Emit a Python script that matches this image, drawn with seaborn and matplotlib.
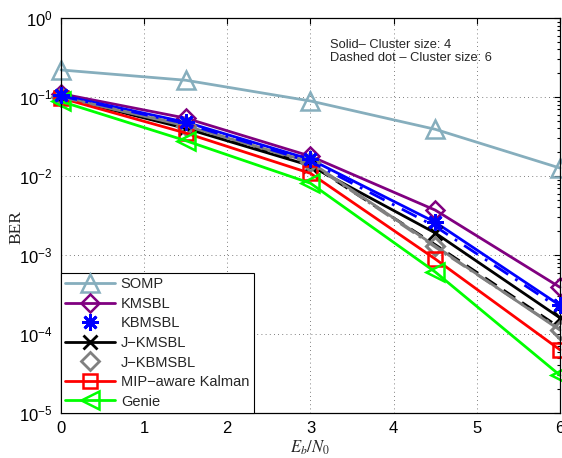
import numpy as np
import pandas as pd
import seaborn as sns
import matplotlib
matplotlib.use("Agg")
import matplotlib.pyplot as plt
from matplotlib.lines import Line2D
from matplotlib.ticker import FixedLocator, FuncFormatter, LogLocator, NullFormatter

# ---------------- data ----------------
ebn0 = [0, 1.5, 3, 4.5, 6]

somp = [0.22, 0.163, 0.089, 0.039, 0.0126]
kmsbl = [0.11, 0.054, 0.0178, 3.7e-3, 3.9e-4]
kbmsbl_4 = [0.105, 0.048, 0.0162, 2.6e-3, 2.3e-4]
kbmsbl_6 = [0.103, 0.046, 0.0152, 2.3e-3, 2.1e-4]
jkmsbl_4 = [0.10, 0.040, 0.0135, 1.9e-3, 1.6e-4]
jkmsbl_6 = [0.10, 0.041, 0.0140, 1.35e-3, 1.2e-4]
jkbmsbl_4 = [0.10, 0.043, 0.0150, 1.3e-3, 1.12e-4]
jkbmsbl_6 = [0.10, 0.044, 0.0145, 1.26e-3, 1.15e-4]
mip_kalman = [0.097, 0.035, 0.0108, 8.9e-4, 6.3e-5]
genie = [0.088, 0.028, 0.0081, 6.1e-4, 3.0e-5]

legend_labels = ["SOMP", "KMSBL", "KBMSBL", "J\u2212KMSBL", "J\u2212KBMSBL",
                 "MIP\u2212aware Kalman", "Genie"]
xtick_vals = [0, 1, 2, 3, 4, 5, 6]
ytick_exps = [0, -1, -2, -3, -4, -5]

# ---------------- style ----------------
sns.set_theme(style="white")
plt.rcParams["font.family"] = ["Liberation Sans", "DejaVu Sans"]
plt.rcParams["mathtext.fontset"] = "stix"

c_somp = "#86aebd"
c_purple = "#800080"
c_blue = "#0000ff"
c_black = "#000000"
c_gray = "#808080"
c_red = "#ff0000"
c_green = "#00ff00"

fig = plt.figure(figsize=(5.62, 4.58), dpi=100)
ax = fig.add_axes([0.1085, 0.0983, 0.8879, 0.8624])

lw = 2.0

def line(y, color, ls="-", marker=None, ms=10, mew=1.8, z=2):
    sns.lineplot(x=ebn0, y=y, ax=ax, color=color, linestyle=ls, linewidth=lw,
                 marker=marker, markersize=ms, markerfacecolor="none",
                 markeredgecolor=color, markeredgewidth=mew, clip_on=False,
                 zorder=z, legend=False)

# dashed-dot (cluster size 6) curves
line(jkmsbl_6, c_black, ls=(0, (5, 3)), z=2)
line(jkbmsbl_6, c_gray, ls=(0, (6, 2, 1, 2)), z=2.1)
line(kbmsbl_6, c_blue, ls=(0, (6, 3, 1, 3)), z=2.2)

# solid (cluster size 4) curves
line(somp, c_somp, marker="^", ms=13)
line(kmsbl, c_purple, marker="D", ms=9)
line(kbmsbl_4, c_blue, marker=None)
sns.lineplot(x=ebn0, y=kbmsbl_4, ax=ax, color=c_blue, linestyle="none",
             marker=(8, 2, 0), markersize=12, markeredgewidth=2.0,
             markeredgecolor=c_blue, clip_on=False, zorder=3, legend=False)
line(jkmsbl_4, c_black, marker="x", ms=10, mew=2.0)
line(jkbmsbl_4, c_gray, marker="D", ms=9, mew=2.2)
line(mip_kalman, c_red, marker="s", ms=10)
line(genie, c_green, marker="<", ms=13)

ax.set_yscale("log")
ax.set_xlim(0, 6)
ax.set_ylim(1e-5, 1)

ax.xaxis.set_major_locator(FixedLocator(xtick_vals))
ax.set_xticklabels([str(v) for v in xtick_vals])
ax.yaxis.set_major_locator(FixedLocator([10.0 ** e for e in ytick_exps]))
ax.yaxis.set_major_formatter(FuncFormatter(
    lambda v, p: r"$\mathregular{10^{%d}}$" % int(round(np.log10(v)))))
ax.yaxis.set_minor_locator(LogLocator(base=10, subs=np.arange(2, 10), numticks=20))
ax.yaxis.set_minor_formatter(NullFormatter())

ax.tick_params(axis="both", which="both", direction="in", top=True, right=True,
               labelsize=12, colors="black", width=0.8)
ax.tick_params(axis="both", which="major", length=4, pad=6)
ax.tick_params(axis="y", which="minor", length=2.5)

for s in ax.spines.values():
    s.set_visible(True)
    s.set_color("black")
    s.set_linewidth(0.9)

ax.grid(True, which="major", linestyle=(0, (1, 4)), color="#555555", linewidth=0.6)

ax.set_xlabel(r"$E_b/N_0$", fontsize=12, labelpad=2)
ax.set_ylabel("BER", fontsize=12.5, family=["Liberation Serif"])
ax.yaxis.set_label_coords(-0.073, 0.47)

ax.text(3.23, 0.38, "Solid\u2013 Cluster size: 4\nDashed dot \u2013 Cluster size: 6",
        fontsize=9.3, va="center", ha="left", linespacing=1.1)

handles = [
    Line2D([], [], color=c_somp, lw=lw, marker="^", ms=13, mfc="none", mec=c_somp, mew=1.8),
    Line2D([], [], color=c_purple, lw=lw, marker="D", ms=9, mfc="none", mec=c_purple, mew=1.8),
    Line2D([], [], color=c_blue, lw=0, marker=(8, 2, 0), ms=12, mec=c_blue, mew=2.0),
    Line2D([], [], color=c_black, lw=lw, marker="x", ms=10, mec=c_black, mew=2.0),
    Line2D([], [], color=c_gray, lw=0, marker="D", ms=9, mfc="none", mec=c_gray, mew=2.0),
    Line2D([], [], color=c_red, lw=lw, marker="s", ms=10, mfc="none", mec=c_red, mew=1.8),
    Line2D([], [], color=c_green, lw=lw, marker="<", ms=13, mfc="none", mec=c_green, mew=1.8),
]
leg = ax.legend(handles, legend_labels, loc="lower left", borderaxespad=0.0,
                fontsize=10.5, handlelength=3.4, labelspacing=0.38, handletextpad=0.4,
                borderpad=0.3, frameon=True, fancybox=False, edgecolor="black",
                framealpha=1.0)
leg.get_frame().set_linewidth(0.8)

fig.savefig("out.png", dpi=100)
